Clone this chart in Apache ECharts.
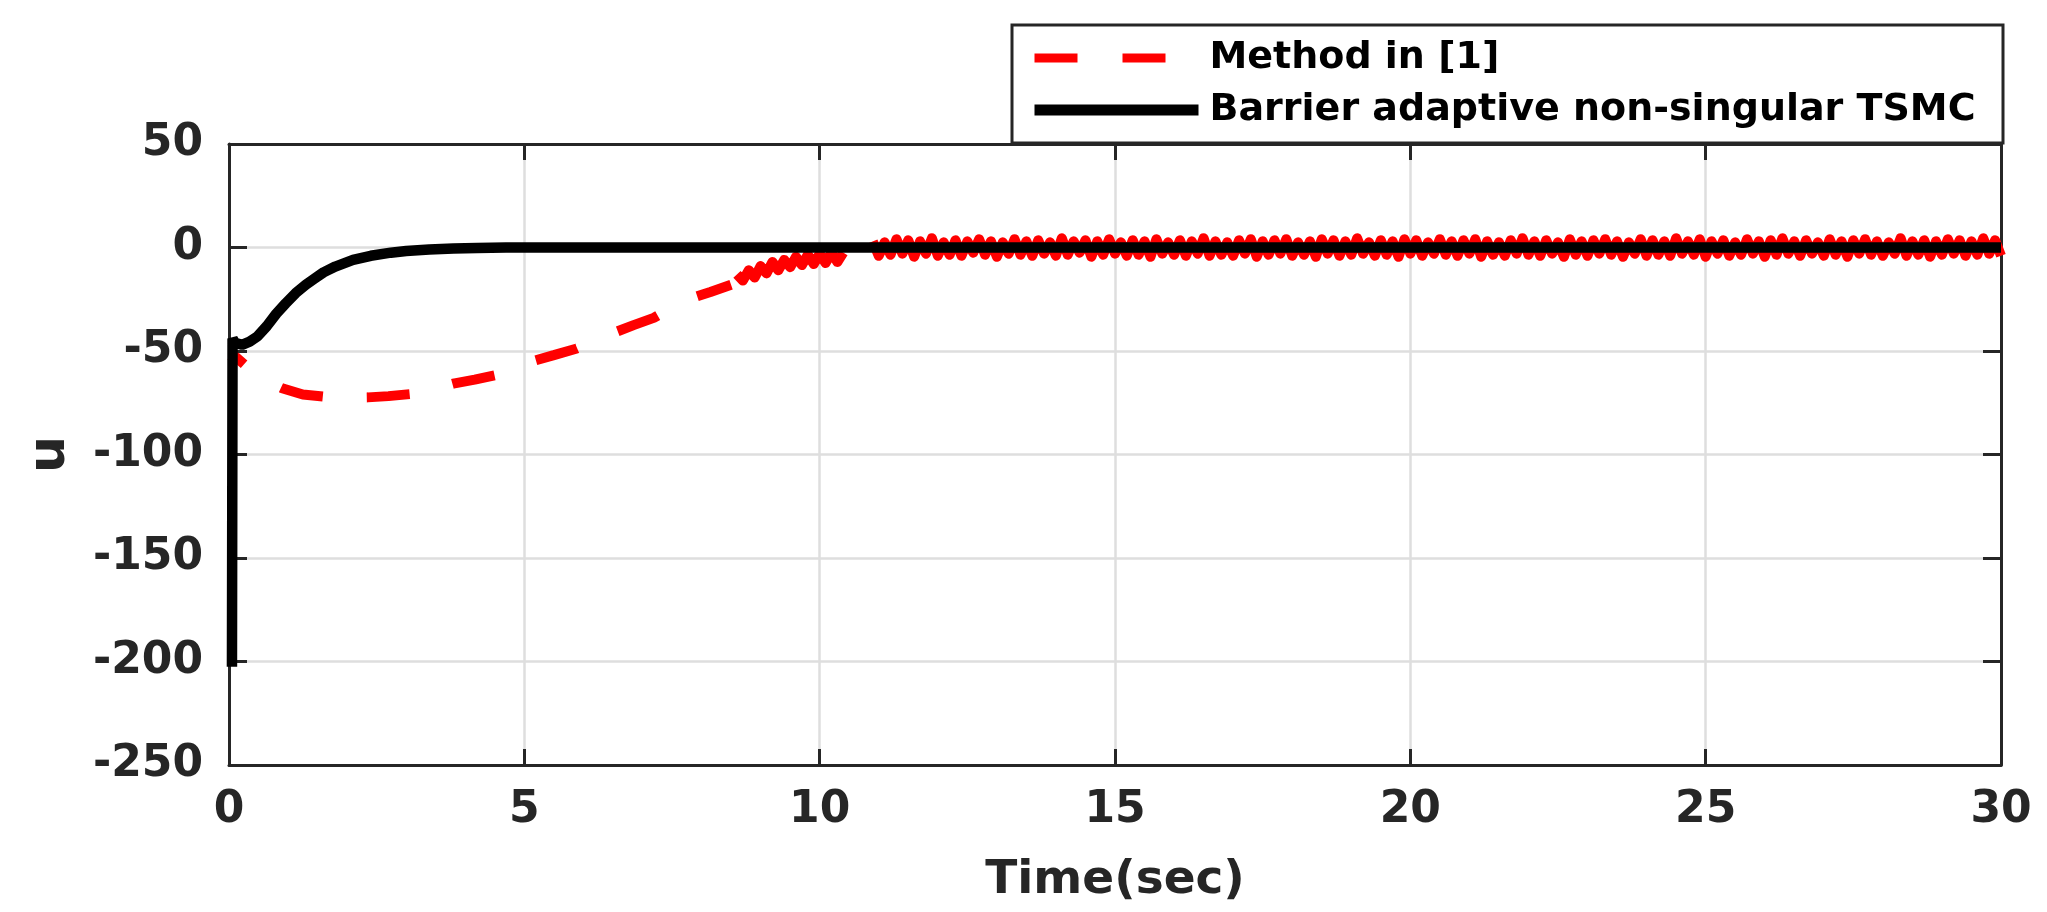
<!DOCTYPE html>
<html lang="en">
<head>
  <meta charset="UTF-8">
  <title>Control input u</title>
  <script src="https://cdn.jsdelivr.net/npm/echarts@6/dist/echarts.min.js"></script>
  <style>
    html, body { margin: 0; padding: 0; background: #fff; }
    #chart { width: 2047px; height: 912px; }
  </style>
</head>
<body>
  <div id="chart"></div>
  <script>
    // axis ticks
    const xTicks = [0, 5, 10, 15, 20, 25, 30];
    const yTicks = [-250, -200, -150, -100, -50, 0, 50];

    // Barrier adaptive non-singular TSMC (black, solid)
    const tsmcT = [0.05, 0.06, 0.1, 0.22, 0.35, 0.48, 0.64, 0.8, 0.96, 1.13, 1.3, 1.45, 1.6, 1.8, 2.1, 2.4, 2.74, 3.0, 3.39, 3.8, 4.2, 4.69, 30];
    const tsmcU = [-202.5, -44, -46, -47, -45.5, -43, -38, -32, -27, -22, -18, -15, -12, -9.2, -6, -4, -2.5, -1.7, -1, -0.5, -0.2, 0, 0];

    // Method in [1] (red, dashed) - smooth part
    const methodT = [0, 0.12, 0.32, 0.6, 0.9, 1.25, 1.6, 2.0, 2.35, 2.7, 3.07, 3.45, 3.82, 4.16, 4.5, 4.84, 5.18, 5.5, 5.89, 6.2, 6.54, 6.85, 7.19, 7.5, 7.83, 8.15, 8.5];
    const methodU = [-52, -53, -58, -64, -68, -71, -72, -72.6, -72.4, -71.8, -70.8, -68.5, -65.6, -63.8, -61.7, -58.3, -54.6, -52, -48.8, -45, -40.9, -37.5, -34, -29, -24.5, -21.5, -18];

    // Method in [1] - chattering part, sampled every 0.1 s from 8.6 s
    const tailStart = 8.6;
    const tailStep = 0.1;
    const methodTail = [
      -13, -16, -11, -14.5, -9, -12.5, -7, -11, -6, -9.5, -4.5, -8.5, -3.5, -8, -3, -7.5, -2.5, -7, -2.5,
      null, null, null, null,
      3, -4, 2.5, -3.5, 4, -3, 3.5, -4.5, 3, -3, 4.5, -4, 2.5, -3.5, 3.5, -4, 3, -2.5, 4, -3.5,
      3, -4.5, 2.5, -3, 4, -3.5, 3, -4, 3.5, -3, 2.5, -4, 4.5, -3.5, 3, -2.5, 3.5, -4.5, 3, -3.5,
      4, -3, 2.5, -4, 3.5, -3.5, 3, -4.5, 4, -3, 2.5, -3.5, 3.5, -4, 3, -3, 4.5, -4, 3, -3.5,
      2.5, -4, 3.5, -3, 4, -4.5, 3, -3.5, 3.5, -3, 4, -4, 2.5, -3.5, 3, -4.5, 4, -3, 3.5, -4,
      3, -3.5, 4.5, -3, 2.5, -4, 3.5, -3.5, 3, -4.5, 4, -3, 3.5, -4, 2.5, -3, 4, -3.5, 3, -4,
      3.5, -3, 4, -4.5, 3, -3.5, 2.5, -4, 3.5, -3, 4.5, -3.5, 3, -4, 3.5, -3, 2.5, -4.5, 4, -3.5,
      3, -4, 3.5, -3, 4, -3.5, 3, -4.5, 2.5, -3, 4, -4, 3.5, -3.5, 3, -4, 4.5, -3, 3, -3.5,
      4, -4.5, 3, -3, 3.5, -4, 2.5, -3.5, 4, -3, 3, -4.5, 3.5, -3.5, 4.5, -3, 3, -4, 3.5, -3,
      2.5, -4, 4, -3.5, 3, -4.5, 3.5, -3, 4, -3.5, 3, -4, 2.5, -3, 4.5, -4, 3, -3.5, 3.5, -4.5,
      3, -3.5, 4, -3, 3.5, -4, 3, -3.5, 4.5, -3, 3.5, -4
    ];

    const names = ['Method in [1]', 'Barrier adaptive non-singular TSMC'];

    const axisColor = '#262626';
    const font = 'DejaVu Sans';

    const tsmcData = tsmcT.map((t, i) => [t, tsmcU[i]]);
    const methodData = methodT.map((t, i) => [t, methodU[i]]);
    const tailData = methodTail.map((u, i) => [+(tailStart + i * tailStep).toFixed(2), u]);

    const chart = echarts.init(document.getElementById('chart'), null, { renderer: 'canvas' });

    const xBase = {
      type: 'value',
      min: xTicks[0],
      max: xTicks[xTicks.length - 1],
      interval: 5,
      axisLine: { show: true, onZero: false, lineStyle: { color: axisColor, width: 3 } },
      axisTick: { show: true, inside: true, length: 16, lineStyle: { color: axisColor, width: 3 } }
    };
    const yBase = {
      type: 'value',
      min: yTicks[0],
      max: yTicks[yTicks.length - 1],
      interval: 50,
      axisLine: { show: true, onZero: false, lineStyle: { color: axisColor, width: 3 } },
      axisTick: { show: true, inside: true, length: 18, lineStyle: { color: axisColor, width: 3 } }
    };

    // hide the marker echarts puts in the middle of a line legend icon
    const noMarker = { color: 'rgba(0,0,0,0)', borderWidth: 0, opacity: 0 };

    const option = {
      animation: false,
      backgroundColor: '#fff',
      grid: { left: 229, right: 46, top: 144, bottom: 147, containLabel: false },
      graphic: [{
        type: 'rect',
        z: 3,
        shape: { x: 1012, y: 25, width: 991, height: 118 },
        style: { fill: '#fff', stroke: axisColor, lineWidth: 3 }
      }],
      legend: {
        orient: 'vertical',
        left: 1029,
        top: 39,
        padding: 0,
        itemWidth: 164,
        itemHeight: 12,
        itemGap: 14,
        z: 5,
        textStyle: { fontFamily: font, fontWeight: 'bold', fontSize: 38, color: '#000', padding: [0, 0, 0, 6] },
        data: [
          { name: names[0], itemStyle: noMarker, lineStyle: { color: '#ff0000', width: 9, type: [43, 45], dashOffset: 0 } },
          { name: names[1], itemStyle: noMarker, lineStyle: { color: '#000000', width: 11, type: 'solid' } }
        ]
      },
      xAxis: [
        Object.assign({}, xBase, {
          position: 'bottom',
          name: 'Time(sec)',
          nameLocation: 'middle',
          nameGap: 92,
          nameTextStyle: { fontFamily: font, fontWeight: 'bold', fontSize: 47, color: axisColor },
          axisLabel: { show: true, margin: 24, fontFamily: font, fontWeight: 'bold', fontSize: 44, color: axisColor },
          splitLine: { show: true, lineStyle: { color: '#dedede', width: 2.5 } }
        }),
        Object.assign({}, xBase, {
          position: 'top',
          axisLabel: { show: false },
          splitLine: { show: false }
        })
      ],
      yAxis: [
        Object.assign({}, yBase, {
          position: 'left',
          name: 'u',
          nameLocation: 'middle',
          nameRotate: 90,
          nameGap: 153,
          nameTextStyle: { fontFamily: font, fontWeight: 'bold', fontSize: 52, color: axisColor },
          axisLabel: { show: true, margin: 26, fontFamily: font, fontWeight: 'bold', fontSize: 44, color: axisColor },
          splitLine: { show: true, lineStyle: { color: '#dedede', width: 2.5 } }
        }),
        Object.assign({}, yBase, {
          position: 'right',
          axisLabel: { show: false },
          splitLine: { show: false }
        })
      ],
      series: [
        {
          name: names[0],
          type: 'line',
          symbol: 'none',
          data: methodData,
          lineStyle: { color: '#ff0000', width: 10, type: [43, 44], dashOffset: 25, cap: 'butt' },
          itemStyle: { color: '#ff0000' },
          z: 2
        },
        {
          name: 'method-chattering',
          type: 'line',
          symbol: 'none',
          data: tailData,
          connectNulls: false,
          lineStyle: { color: '#ff0000', width: 10, type: 'solid', join: 'round' },
          itemStyle: { color: '#ff0000' },
          z: 2
        },
        {
          name: names[1],
          type: 'line',
          symbol: 'none',
          data: tsmcData,
          lineStyle: { color: '#000000', width: 10.5, type: 'solid', cap: 'butt' },
          itemStyle: { color: '#000000' },
          z: 3
        }
      ]
    };

    chart.setOption(option);
  </script>
</body>
</html>
